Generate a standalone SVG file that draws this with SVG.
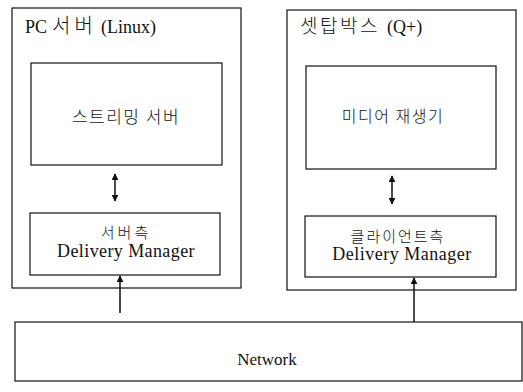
<svg xmlns="http://www.w3.org/2000/svg" width="523" height="392" viewBox="0 0 523 392">
<style>
.box{fill:none;stroke:#111;stroke-width:1.2}
.t{font-family:'Liberation Serif','Times New Roman',serif;fill:#111}
.k{font-family:'Noto Sans CJK KR',sans-serif;font-weight:300;fill:#111}
.c{stroke:#111;stroke-width:1.5;fill:none}
</style>
<defs>
<marker id="ah" viewBox="0 0 10 10" refX="9" refY="5" markerWidth="7" markerHeight="7" orient="auto-start-reverse" markerUnits="userSpaceOnUse">
<path d="M0,0 L10,5 L0,10 z" fill="#111"/>
</marker>
</defs>
<rect width="523" height="392" fill="#fff"/>
<g id="pc-server">
<rect class="box" x="12" y="8" width="229" height="280"/>
<text x="25" y="33"><tspan class="t" font-size="18">PC</tspan><tspan class="k" x="52" font-size="20" letter-spacing="4">서버</tspan><tspan class="t" x="101" font-size="18">(Linux)</tspan></text>
</g>
<g id="settop">
<rect class="box" x="287" y="10" width="229" height="280"/>
<text x="300" y="33"><tspan class="k" font-size="19" letter-spacing="2.5">셋탑박스</tspan><tspan class="t" x="387" font-size="18">(Q+)</tspan></text>
</g>
<g id="streaming-server">
<rect class="box" x="31" y="63" width="191" height="102"/>
<text class="k" x="126" y="123" font-size="17" letter-spacing="1.5" text-anchor="middle">스트리밍 서버</text>
</g>
<g id="media-player">
<rect class="box" x="306" y="66" width="190" height="103"/>
<text class="k" x="393" y="122" font-size="16" letter-spacing="1.5" text-anchor="middle">미디어 재생기</text>
</g>
<g id="server-dm">
<rect class="box" x="30" y="213" width="190" height="62"/>
<text class="k" x="126" y="238" font-size="15" letter-spacing="3" text-anchor="middle">서버측</text>
<text class="t" x="126" y="257" font-size="18" letter-spacing="0.4" text-anchor="middle">Delivery Manager</text>
</g>
<g id="client-dm">
<rect class="box" x="305" y="216" width="191" height="61"/>
<text class="k" x="398" y="242" font-size="15" letter-spacing="2" text-anchor="middle">클라이언트측</text>
<text class="t" x="402" y="260" font-size="18" letter-spacing="0.5" text-anchor="middle">Delivery Manager</text>
</g>
<g id="network">
<rect class="box" x="15" y="322" width="507" height="59"/>
<text class="t" x="267" y="365" font-size="17" text-anchor="middle">Network</text>
</g>
<g id="connectors">
<line class="c" x1="115" y1="174" x2="115" y2="201" marker-start="url(#ah)" marker-end="url(#ah)"/>
<line class="c" x1="392" y1="176" x2="392" y2="204" marker-start="url(#ah)" marker-end="url(#ah)"/>
<line class="c" x1="120" y1="313" x2="120" y2="276" marker-end="url(#ah)"/>
<line class="c" x1="414" y1="322" x2="414" y2="278" marker-end="url(#ah)"/>
</g>
</svg>
